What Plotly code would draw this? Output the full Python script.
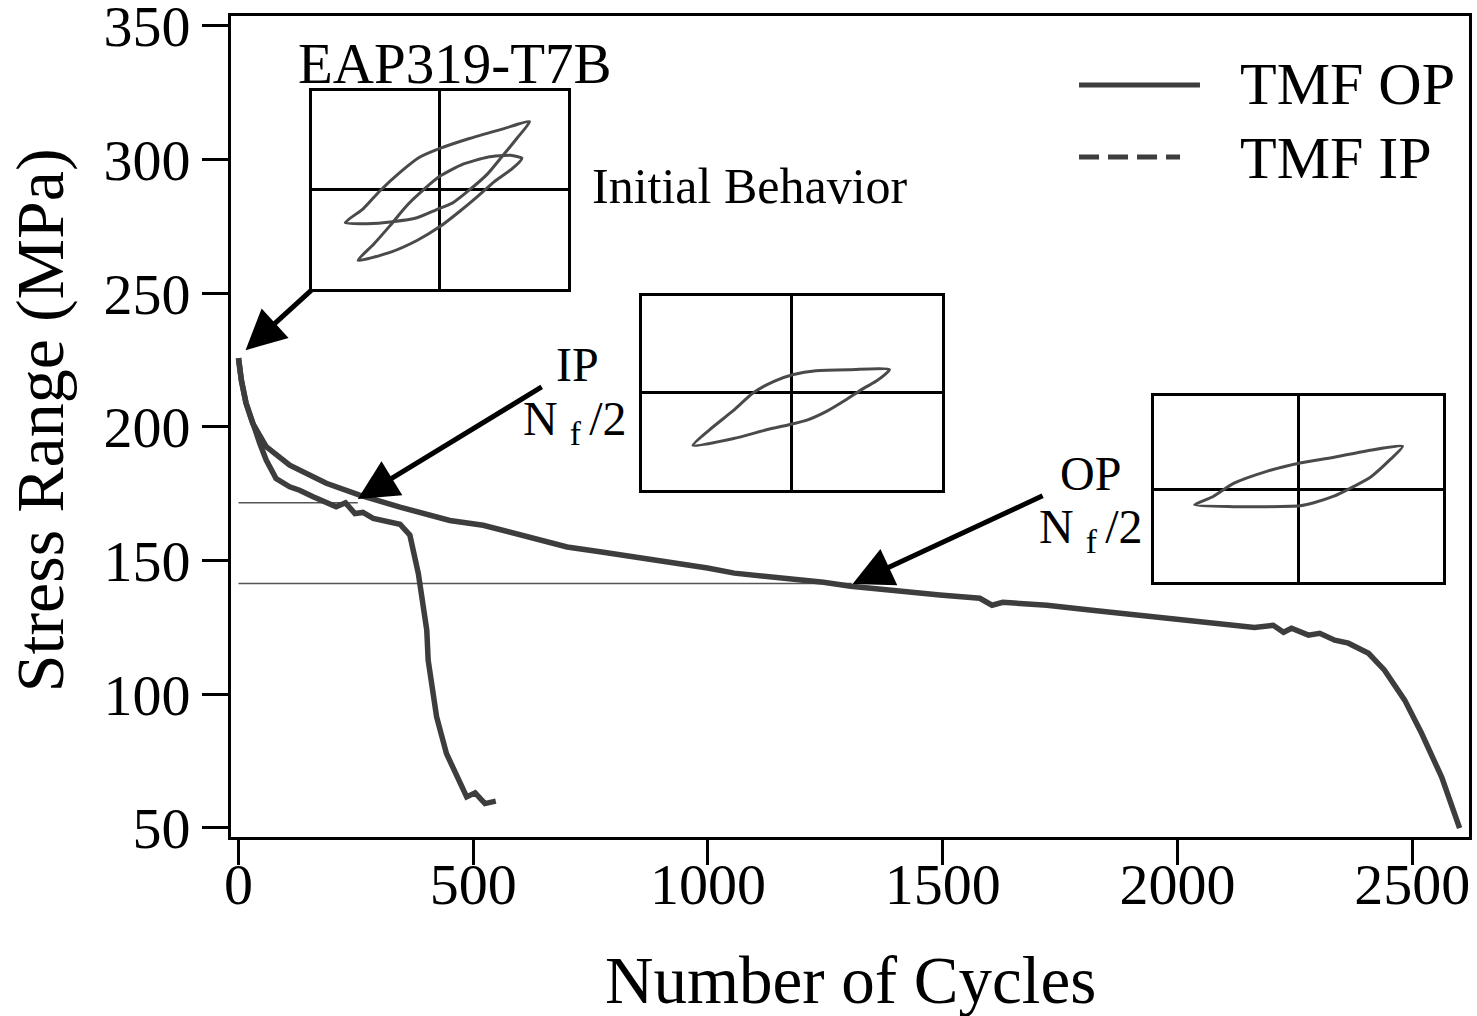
import plotly.graph_objects as go

# ---------------- data ----------------
op_cycles = [0, 6, 16, 30, 59, 109, 187, 258, 344, 450, 521, 627, 700, 770, 847, 913, 999, 1056,
             1169, 1246, 1304, 1381, 1494, 1579, 1605, 1628, 1722, 1818, 1914, 2008, 2051, 2164,
             2204, 2226, 2243, 2279, 2303, 2335, 2364, 2407, 2441, 2484, 2520, 2563, 2601]
op_stress = [225.7, 217.5, 208.9, 201.4, 192.6, 185.7, 178.9, 174.5, 170.0, 165.0, 163.2, 158.4,
             155.1, 153.3, 151.3, 149.4, 147.2, 145.3, 143.4, 141.9, 140.4, 138.9, 137.1, 135.9,
             133.3, 134.4, 133.3, 131.4, 129.6, 127.7, 127.2, 125.0, 125.8, 123.2, 124.7, 122.1,
             122.8, 120.2, 119.1, 115.3, 109.0, 97.8, 85.4, 68.9, 49.9]

ip_cycles = [0, 6, 16, 30, 45, 59, 80, 109, 130, 159, 187, 208, 228, 248, 265, 287, 344, 365,
             383, 390, 401, 404, 422, 443, 486, 504, 525, 548]
ip_stress = [225.7, 217.5, 208.9, 201.4, 194.0, 187.6, 180.7, 177.6, 176.3, 173.9, 171.4, 170.1,
             171.6, 167.6, 168.0, 165.8, 163.6, 159.5, 145.2, 136.4, 124.0, 112.7, 91.5, 77.8,
             61.6, 63.1, 59.1, 60.0]

# half-life reference levels (cycles, stress)
ip_half_x = [0, 254]
ip_half_y = [171.6, 171.6]
op_half_x = [0, 1306]
op_half_y = [141.4, 141.4]

# hysteresis loops (normalised strain, normalised stress) for the insets
init_a_strain = [-0.74, -0.60, -0.47, -0.31, -0.16, 0.00, 0.23, 0.50, 0.70, 0.60, 0.48, 0.37,
                 0.23, 0.10, -0.03, -0.18, -0.37, -0.57, -0.74]
init_a_stress = [-0.33, -0.19, -0.01, 0.18, 0.33, 0.42, 0.52, 0.62, 0.69, 0.52, 0.33, 0.16,
                 0.00, -0.13, -0.20, -0.28, -0.32, -0.34, -0.33]
init_b_strain = [-0.64, -0.52, -0.39, -0.26, -0.13, 0.00, 0.18, 0.37, 0.55, 0.64, 0.56, 0.42,
                 0.29, 0.16, 0.00, -0.18, -0.39, -0.64]
init_b_stress = [-0.71, -0.55, -0.36, -0.16, 0.00, 0.14, 0.26, 0.33, 0.35, 0.32, 0.21, 0.08,
                 -0.07, -0.21, -0.37, -0.51, -0.63, -0.71]
ip_loop_strain = [-0.66, -0.55, -0.39, -0.26, -0.12, 0.01, 0.16, 0.39, 0.65, 0.56, 0.48, 0.36,
                  0.23, 0.10, 0.00, -0.17, -0.39, -0.66]
ip_loop_stress = [-0.54, -0.38, -0.18, 0.00, 0.12, 0.19, 0.23, 0.24, 0.24, 0.12, 0.05, -0.07,
                  -0.19, -0.28, -0.32, -0.38, -0.47, -0.54]
op_loop_strain = [-0.72, -0.59, -0.45, -0.22, 0.01, 0.24, 0.47, 0.72, 0.63, 0.50, 0.36, 0.24,
                  0.10, 0.01, -0.22, -0.45, -0.72]
op_loop_stress = [-0.17, -0.08, 0.06, 0.19, 0.28, 0.34, 0.41, 0.46, 0.31, 0.13, 0.01, -0.08,
                  -0.15, -0.18, -0.19, -0.19, -0.17]

x_ticks = [0, 500, 1000, 1500, 2000, 2500]
y_ticks = [50, 100, 150, 200, 250, 300, 350]

# ---------------- figure ----------------
FONT = "Liberation Serif, Times New Roman, serif"
CURVE = "#3d3d3d"
LOOP = "#4a4a4a"

fig = go.Figure()

fig.add_trace(go.Scatter(x=op_half_x, y=op_half_y, mode="lines",
                         line=dict(color="#555555", width=1.5), showlegend=False, hoverinfo="skip"))
fig.add_trace(go.Scatter(x=ip_half_x, y=ip_half_y, mode="lines",
                         line=dict(color="#555555", width=1.5), showlegend=False, hoverinfo="skip"))
fig.add_trace(go.Scatter(x=op_cycles, y=op_stress, mode="lines", name="TMF OP",
                         line=dict(color=CURVE, width=5.5), showlegend=False))
fig.add_trace(go.Scatter(x=ip_cycles, y=ip_stress, mode="lines", name="TMF IP",
                         line=dict(color=CURVE, width=5.5), showlegend=False))

loops = [
    ("x2", "y2", init_a_strain, init_a_stress),
    ("x2", "y2", init_b_strain, init_b_stress),
    ("x3", "y3", ip_loop_strain, ip_loop_stress),
    ("x4", "y4", op_loop_strain, op_loop_stress),
]
for xa, ya, sx, sy in loops:
    fig.add_trace(go.Scatter(x=sx, y=sy, xaxis=xa, yaxis=ya, mode="lines",
                             line=dict(color=LOOP, width=3, shape="spline", smoothing=0.6),
                             showlegend=False, hoverinfo="skip"))

inset_axis = dict(range=[-1, 1], showline=True, mirror=True, linewidth=3, linecolor="black",
                  zeroline=True, zerolinewidth=3, zerolinecolor="black", showgrid=False,
                  showticklabels=False, ticks="", fixedrange=True, automargin=False)

fig.update_layout(
    width=1477, height=1016,
    margin=dict(l=231, r=8, t=16, b=179),
    paper_bgcolor="white", plot_bgcolor="white",
    font=dict(family=FONT, color="black"),
    showlegend=False,
    xaxis=dict(range=[-16, 2621], tickvals=x_ticks, ticks="outside", ticklen=25, tickwidth=3,
               tickcolor="black", showline=True, mirror=True, linewidth=3, linecolor="black",
               showgrid=False, zeroline=False, tickfont=dict(size=58, family=FONT),
               ticklabelstandoff=-31, ticklabeloverflow="allow", automargin=False),
    yaxis=dict(range=[46.6, 353.7], tickvals=y_ticks, ticks="outside", ticklen=26, tickwidth=3,
               tickcolor="black", showline=True, mirror=True, linewidth=3, linecolor="black",
               showgrid=False, zeroline=False, tickfont=dict(size=58, family=FONT),
               ticklabeloverflow="allow", automargin=False),
    xaxis2=dict(domain=[0.0654, 0.2722], anchor="y2", **inset_axis),
    yaxis2=dict(domain=[0.6675, 0.9087], anchor="x2", **inset_axis),
    xaxis3=dict(domain=[0.3320, 0.5743], anchor="y3", **inset_axis),
    yaxis3=dict(domain=[0.4227, 0.6590], anchor="x3", **inset_axis),
    xaxis4=dict(domain=[0.7456, 0.9790], anchor="y4", **inset_axis),
    yaxis4=dict(domain=[0.3106, 0.5371], anchor="x4", **inset_axis),
)

ann = []
# axis titles
ann.append(dict(text="Number of Cycles", xref="paper", yref="paper", x=0.5, y=-0.174,
                xanchor="center", yanchor="middle", showarrow=False, font=dict(size=67, family=FONT)))
ann.append(dict(text="Stress Range (MPa)", xref="paper", yref="paper", x=-0.154, y=0.508,
                xanchor="center", yanchor="middle", textangle=-90, showarrow=False,
                font=dict(size=68, family=FONT)))
# labels
ann.append(dict(text="EAP319-T7B", xref="paper", yref="paper", x=0.0525, y=0.9427,
                xanchor="left", yanchor="middle", showarrow=False, font=dict(size=57, family=FONT)))
ann.append(dict(text="Initial Behavior", xref="paper", yref="paper", x=0.290, y=0.793,
                xanchor="left", yanchor="middle", showarrow=False, font=dict(size=50, family=FONT)))
ann.append(dict(text="IP", xref="paper", yref="paper", x=0.2795, y=0.5757,
                xanchor="center", yanchor="middle", showarrow=False, font=dict(size=48, family=FONT)))
ann.append(dict(text="N <sub>f </sub>/2", xref="paper", yref="paper", x=0.2775, y=0.5055,
                xanchor="center", yanchor="middle", showarrow=False, font=dict(size=48, family=FONT)))
ann.append(dict(text="OP", xref="paper", yref="paper", x=0.6939, y=0.4429,
                xanchor="center", yanchor="middle", showarrow=False, font=dict(size=48, family=FONT)))
ann.append(dict(text="N <sub>f </sub>/2", xref="paper", yref="paper", x=0.6945, y=0.3739,
                xanchor="center", yanchor="middle", showarrow=False, font=dict(size=48, family=FONT)))
# legend texts
ann.append(dict(text="TMF OP", xref="paper", yref="paper", x=0.8134, y=0.9172,
                xanchor="left", yanchor="middle", showarrow=False, font=dict(size=60, family=FONT)))
ann.append(dict(text="TMF IP", xref="paper", yref="paper", x=0.8134, y=0.827,
                xanchor="left", yanchor="middle", showarrow=False, font=dict(size=60, family=FONT)))
# arrows (tip at the data feature, tail near the inset/label)
arrows = [((15, 228.7), (158, 251.6)),
          ((254, 173.0), (649, 215.3)),
          ((1308, 141.2), (1716, 174.5))]
for (tx, ty), (sx, sy) in arrows:
    ann.append(dict(x=tx, y=ty, ax=sx, ay=sy, xref="x", yref="y", axref="x", ayref="y",
                    showarrow=True, arrowhead=2, arrowsize=1.6, arrowwidth=5, arrowcolor="black",
                    text=""))
fig.update_layout(annotations=ann)

# legend line samples
fig.add_shape(type="line", xref="paper", yref="paper", x0=0.685, x1=0.7827, y0=0.916, y1=0.916,
              line=dict(color=CURVE, width=5))
fig.add_shape(type="line", xref="paper", yref="paper", x0=0.685, x1=0.7666, y0=0.8283, y1=0.8283,
              line=dict(color=CURVE, width=5, dash="20px,9px"))

fig.write_html("out.html")
